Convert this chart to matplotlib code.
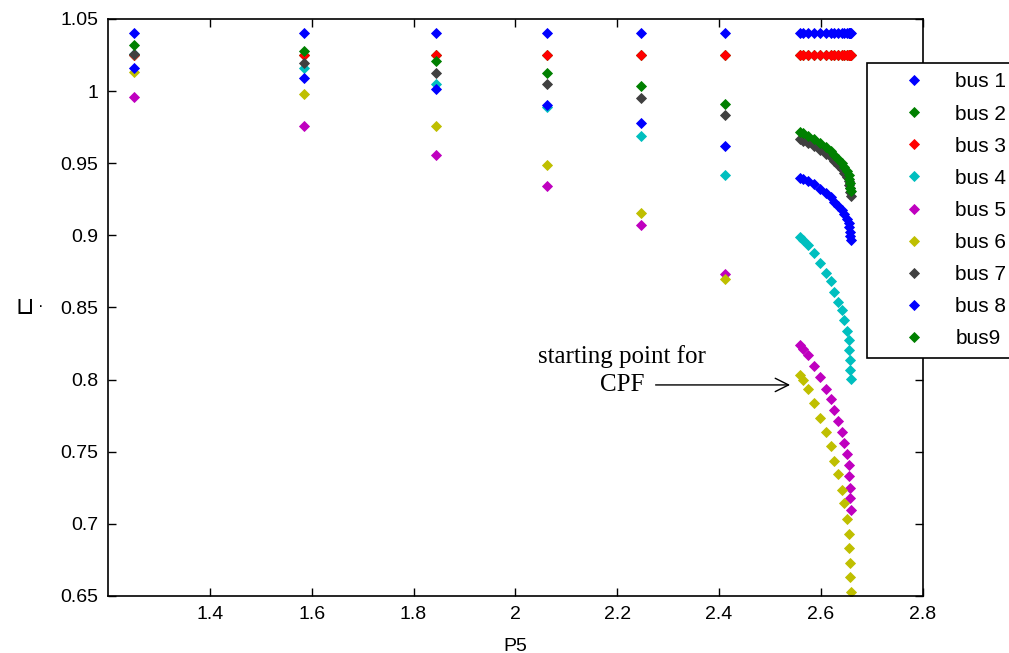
# PV curves of the 9-bus system, continuation from the base case
import matplotlib.pyplot as plt

p5 = [1.251, 1.584, 1.845, 2.063, 2.247, 2.412,
      2.559, 2.565, 2.574, 2.587, 2.599, 2.610, 2.620, 2.626, 2.634,
      2.642, 2.645, 2.652, 2.656, 2.656, 2.658, 2.658, 2.659]

bus1 = [1.04] * 23
bus2 = [1.025] * 23
bus3 = [1.025] * 23
bus4 = [1.026, 1.016, 1.005, 0.989, 0.9686, 0.942,
        0.899, 0.897, 0.893, 0.888, 0.881, 0.874, 0.868, 0.861, 0.854,
        0.848, 0.841, 0.834, 0.8275, 0.8205, 0.8136, 0.8067, 0.8004]
bus5 = [0.996, 0.9755, 0.9558, 0.934, 0.907, 0.8735,
        0.824, 0.8212, 0.8171, 0.8094, 0.8018, 0.7935, 0.7866, 0.7789, 0.7713,
        0.7637, 0.7561, 0.7484, 0.7408, 0.7332, 0.7249, 0.7179, 0.7096]
bus6 = [1.013, 0.998, 0.9755, 0.949, 0.9152, 0.870,
        0.8032, 0.7997, 0.7935, 0.7838, 0.7734, 0.7637, 0.754, 0.7436, 0.7346,
        0.7235, 0.7145, 0.7034, 0.693, 0.6833, 0.6729, 0.6631, 0.6527]
bus7 = [1.026, 1.0195, 1.0126, 1.0046, 0.9952, 0.9835,
        0.9665, 0.9657, 0.9643, 0.9621, 0.9593, 0.9565, 0.954, 0.9512, 0.9485,
        0.946, 0.9432, 0.9405, 0.938, 0.9352, 0.9325, 0.9297, 0.9272]
bus8 = [1.016, 1.009, 1.0012, 0.9904, 0.9778, 0.9617,
        0.940, 0.939, 0.9378, 0.9354, 0.9323, 0.9293, 0.9265, 0.9234, 0.9204,
        0.9176, 0.9145, 0.9115, 0.9088, 0.9057, 0.9026, 0.8996, 0.8968]
bus9 = [1.032, 1.028, 1.0206, 1.0126, 1.0032, 0.9908,
        0.9715, 0.9706, 0.9692, 0.9669, 0.964, 0.9611, 0.9585, 0.9556, 0.9527,
        0.9501, 0.9472, 0.9444, 0.9418, 0.9389, 0.936, 0.9331, 0.9305]

labels = ['bus 1', 'bus 2', 'bus 3', 'bus 4', 'bus 5', 'bus 6', 'bus 7', 'bus 8', 'bus9']
colors = ['#0000ff', '#008000', '#ff0000', '#00bfbf', '#bf00bf',
          '#bfbf00', '#404040', '#0000ff', '#008000']
xticks = [1.4, 1.6, 1.8, 2.0, 2.2, 2.4, 2.6, 2.8]
xticklabels = ['1.4', '1.6', '1.8', '2', '2.2', '2.4', '2.6', '2.8']
yticks = [0.65, 0.7, 0.75, 0.8, 0.85, 0.9, 0.95, 1.0, 1.05]
yticklabels = ['0.65', '0.7', '0.75', '0.8', '0.85', '0.9', '0.95', '1', '1.05']

plt.rcParams['font.family'] = ['Liberation Sans', 'DejaVu Sans']

fig = plt.figure(figsize=(10.09, 6.53), dpi=100)
ax = fig.add_axes([0.107, 0.0873, 0.8075, 0.8837])

for v, c, lab in zip([bus1, bus2, bus3, bus4, bus5, bus6, bus7, bus8, bus9], colors, labels):
    ax.plot(p5, v, linestyle='none', marker='D', ms=4.8, color=c, mec=c, mew=0.6, label=lab)

ax.set_xlim(1.2, 2.8)
ax.set_ylim(0.65, 1.05)
ax.set_xticks(xticks)
ax.set_xticklabels(xticklabels, fontsize=14)
ax.set_yticks(yticks)
ax.set_yticklabels(yticklabels, fontsize=14)
ax.tick_params(direction='in', length=6, width=1, top=True, right=True, pad=7)
for s in ax.spines.values():
    s.set_linewidth(1.2)
ax.set_xlabel('P5', fontsize=14, labelpad=11)
fig.text(0.015, 0.530, '\u2294', fontsize=17, va='center', family='DejaVu Sans')
fig.text(0.038, 0.530, '\u00b7', fontsize=12, va='center')

# annotation for the continuation start
ax.text(2.210, 0.8157, 'starting point for', fontsize=18, ha='center', va='center',
        family='Liberation Serif')
ax.text(2.210, 0.7963, 'CPF', fontsize=18, ha='center', va='center',
        family='Liberation Serif')
ax.annotate('', xy=(2.545, 0.7963), xytext=(2.270, 0.7963),
            arrowprops=dict(arrowstyle='->', color='black', lw=1.0, mutation_scale=24))

leg = ax.legend(loc='upper left', bbox_to_anchor=(866.7 / 1009, 1 - 63 / 653),
                bbox_transform=fig.transFigure, fontsize=15, frameon=True, fancybox=False,
                framealpha=1, edgecolor='black', borderpad=0.45, handlelength=3.6,
                handletextpad=0.2, labelspacing=0.63, borderaxespad=0)
leg.get_frame().set_linewidth(1.2)

plt.savefig('out.png', dpi=100)
